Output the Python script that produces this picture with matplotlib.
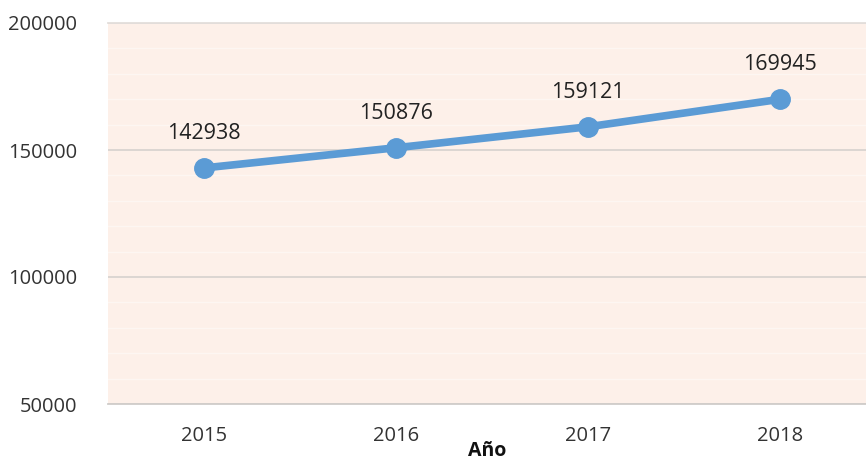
import matplotlib
matplotlib.use('Agg')

import matplotlib.pyplot as plt

# Datos
anios = ["2015", "2016", "2017", "2018"]
valores = [142938, 150876, 159121, 169945]
yticks = [50000, 100000, 150000, 200000]

plt.rcParams['font.family'] = ['Open Sans', 'DejaVu Sans']

fig = plt.figure(figsize=(8.66, 4.62), dpi=100)
ax = fig.add_axes([108 / 866, 1 - 404 / 462, 1 - 108 / 866, (404 - 23) / 462])

x = list(range(len(anios)))
ax.set_facecolor("#fdf0e9")
ax.plot(x, valores, color="#5b9bd5", linewidth=5.5, marker="o",
        markersize=14, solid_capstyle="round", zorder=3)

for xi, v in zip(x, valores):
    ax.annotate(str(v), (xi, v), xytext=(0, 25), textcoords="offset points",
                ha="center", va="center", fontsize=15.5, color="#222222")

ax.set_xlim(-0.5, 3.45)
ax.set_ylim(50000, 200000)
ax.set_xticks(x)
ax.set_xticklabels(anios)
ax.set_yticks(yticks)
ax.set_yticklabels([str(t) for t in yticks])
ax.tick_params(axis="both", length=0, labelsize=14.5, colors="#333333")
ax.tick_params(axis="y", pad=22)
ax.tick_params(axis="x", pad=16)

# rayado suave del fondo
ax.set_yticks(range(50000, 200001, 10000), minor=True)
ax.tick_params(axis="y", which="minor", length=0)
ax.grid(axis="y", which="minor", color="#ffffff", linewidth=1.0, alpha=0.45)
ax.grid(axis="y", which="major", color="#d9d4d0", linewidth=1.3)
ax.set_axisbelow(True)

for s in ["right", "left"]:
    ax.spines[s].set_visible(False)
ax.spines["top"].set_color("#e3dedb")
ax.spines["top"].set_linewidth(1.3)
ax.spines["bottom"].set_color("#d0cdca")
ax.spines["bottom"].set_linewidth(1.3)

ax.set_xlabel("Año", fontsize=14, fontweight="bold", labelpad=-4, color="#111111")

plt.savefig("out.png", dpi=100)
plt.close()
